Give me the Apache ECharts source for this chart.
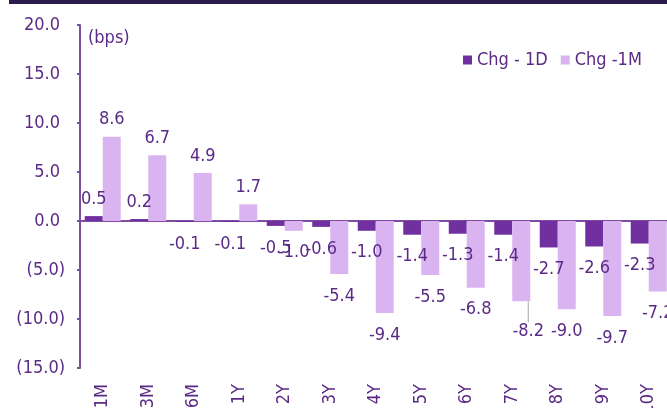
<!DOCTYPE html>
<html>
<head>
<meta charset="utf-8">
<script src="https://cdn.jsdelivr.net/npm/echarts@6/dist/echarts.min.js"></script>
<style>
  html, body { margin: 0; padding: 0; background: #fff; }
  #chart { width: 667px; height: 408px; }
</style>
</head>
<body>
<div id="chart"></div>
<script>
const tenors = ['1M', '3M', '6M', '1Y', '2Y', '3Y', '4Y', '5Y', '6Y', '7Y', '8Y', '9Y', '10Y'];
const chg1D = [0.5, 0.2, -0.1, -0.1, -0.5, -0.6, -1.0, -1.4, -1.3, -1.4, -2.7, -2.6, -2.3];
const chg1M = [8.6, 6.7, 4.9, 1.7, -1.0, -5.4, -9.4, -5.5, -6.8, -8.2, -9.0, -9.7, -7.2];
const seriesNames = ['Chg - 1D', 'Chg -1M'];
const movedLabel = 9; // 7Y -1M label was dragged off its bar in the original

const textColor = '#5b2a86';
const axisColor = '#7d4ca3';
const font = 'DejaVu Sans Condensed';
const fs = 18;

const chart = echarts.init(document.getElementById('chart'), null, { renderer: 'canvas' });

// label on the outer end of each bar, like Excel "outside end"
function withLabels(values, moved) {
  return values.map(function (v, i) {
    const item = {
      value: v,
      label: {
        position: v >= 0 ? 'top' : 'bottom',
        distance: v >= 0 ? 8 : 13
      }
    };
    if (i === moved) item.labelLine = { show: true };
    return item;
  });
}

function yLabel(v) {
  if (v < 0) return '(' + Math.abs(v).toFixed(1) + ')';
  return '{p|' + v.toFixed(1) + '}';
}

const labelStyle = {
  show: true,
  color: textColor,
  fontFamily: font,
  fontSize: fs,
  formatter: function (p) { return p.value.toFixed(1); }
};

const option = {
  animation: false,
  textStyle: { fontFamily: font },
  grid: { left: 80, top: 25, width: 591.5, height: 343, outerBoundsMode: 'none', containLabel: false },
  legend: {
    left: 458,
    top: 46,
    itemWidth: 9,
    itemHeight: 9,
    itemGap: 13,
    icon: 'rect',
    textStyle: { color: textColor, fontFamily: font, fontSize: fs },
    data: seriesNames
  },
  xAxis: [{
    type: 'category',
    data: tenors,
    axisLine: { show: false, onZero: false },
    axisTick: { show: false },
    axisLabel: {
      interval: 0,
      rotate: 90,
      margin: 16,
      color: textColor,
      fontFamily: font,
      fontSize: fs
    }
  }, {
    type: 'category',
    data: tenors,
    position: 'bottom',
    axisLine: { show: true, onZero: true, lineStyle: { color: axisColor, width: 2 } },
    axisTick: { show: false },
    axisLabel: { show: false }
  }],
  yAxis: {
    type: 'value',
    min: -15,
    max: 20,
    interval: 5,
    splitLine: { show: false },
    axisLine: { show: true, lineStyle: { color: axisColor, width: 2 } },
    axisTick: { show: true, length: 3, lineStyle: { color: axisColor, width: 2 } },
    axisLabel: {
      margin: 15,
      color: textColor,
      fontFamily: font,
      fontSize: fs,
      formatter: yLabel,
      rich: { p: { color: textColor, fontFamily: font, fontSize: fs, padding: [0, 5, 0, 0] } }
    }
  },
  graphic: [{
    type: 'rect',
    shape: { x: 9, y: 0, width: 660, height: 4 },
    style: { fill: '#2d1b4e' }
  }, {
    type: 'text',
    left: 88,
    top: 29,
    style: { text: '(bps)', fill: textColor, font: fs + 'px "' + font + '"' }
  }],
  series: [{
    name: seriesNames[0],
    type: 'bar',
    xAxisIndex: 0,
    barWidth: 18,
    barGap: '0%',
    itemStyle: { color: '#7030a0' },
    label: labelStyle,
    data: withLabels(chg1D, -1)
  }, {
    name: seriesNames[1],
    type: 'bar',
    xAxisIndex: 0,
    barWidth: 18,
    barGap: '0%',
    itemStyle: { color: '#dab4f0' },
    label: labelStyle,
    labelLine: { show: false, lineStyle: { color: '#a6a6a6', width: 1 } },
    labelLayout: function (p) {
      if (p.dataIndex === movedLabel) return { dx: 7, dy: 8 };
    },
    data: withLabels(chg1M, movedLabel)
  }]
};

chart.setOption(option);
</script>
</body>
</html>
